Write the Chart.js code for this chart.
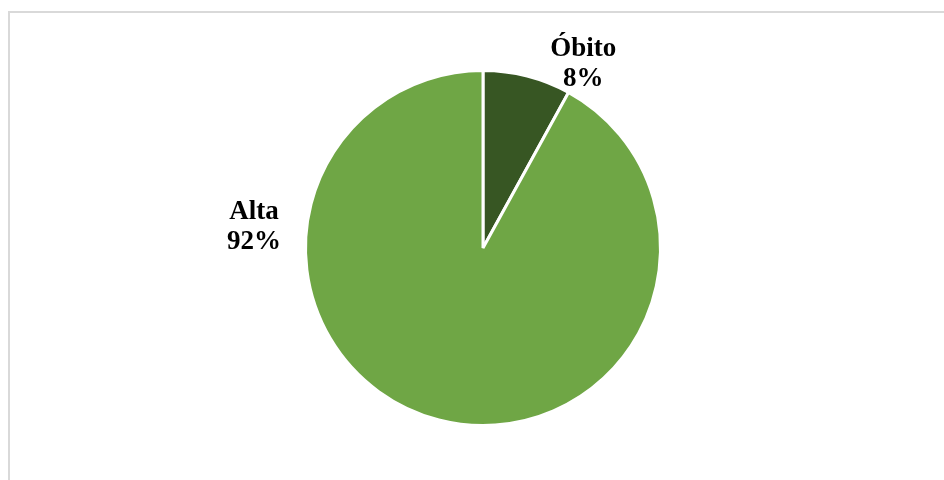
<!DOCTYPE html>
<html>
<head>
<meta charset="utf-8">
<script src="https://cdn.jsdelivr.net/npm/chart.js@4.4.1/dist/chart.umd.min.js"></script>
<style>
  html, body { margin: 0; padding: 0; background: #fff; }
  #wrap { position: relative; width: 944px; height: 480px; }
  #frame { position: absolute; left: 8px; top: 11px; right: 0; bottom: 0;
           border-top: 2px solid #d9d9d9; border-left: 2px solid #d9d9d9; }
  canvas { position: absolute; left: 0; top: 0; }
</style>
</head>
<body>
<div id="wrap">
  <div id="frame"></div>
  <canvas id="pie" width="944" height="480"></canvas>
</div>
<script>
const categories = ["Óbito", "Alta"];
const shares = [8, 92];
const sliceColors = ["#375623", "#6fa645"];

// label offsets relative to pie center, in units of the radius
const labelOffsets = [[0.565, -1.045], [-1.29, -0.125]];

const pieLabels = {
  id: "pieLabels",
  afterDatasetsDraw(chart) {
    const ctx = chart.ctx;
    const arcs = chart.getDatasetMeta(0).data;
    ctx.save();
    ctx.font = "bold 27px 'Liberation Serif', 'Times New Roman', serif";
    ctx.fillStyle = "#000";
    ctx.textAlign = "center";
    ctx.textBaseline = "alphabetic";
    arcs.forEach((arc, i) => {
      const r = arc.outerRadius;
      const x = arc.x + labelOffsets[i][0] * r;
      const y = arc.y + labelOffsets[i][1] * r;
      ctx.fillText(categories[i], x, y - 7);
      ctx.fillText(shares[i] + "%", x, y + 23);
    });
    ctx.restore();
  }
};

new Chart(document.getElementById("pie").getContext("2d"), {
  type: "pie",
  data: {
    labels: categories,
    datasets: [{
      data: shares,
      backgroundColor: sliceColors,
      borderColor: "#ffffff",
      borderWidth: 3
    }]
  },
  options: {
    responsive: false,
    animation: false,
    layout: { padding: { top: 69, bottom: 53, left: 304, right: 282 } },
    plugins: { legend: { display: false }, tooltip: { enabled: false } }
  },
  plugins: [pieLabels]
});
</script>
</body>
</html>
